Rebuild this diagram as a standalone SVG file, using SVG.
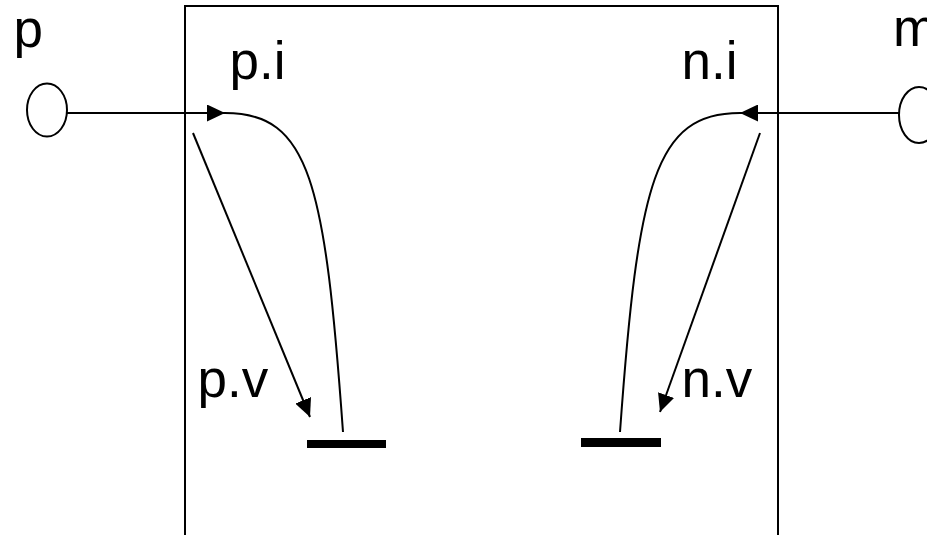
<svg xmlns="http://www.w3.org/2000/svg" width="927" height="535" viewBox="0 0 927 535">
<style>
.ln{fill:none;stroke:#000;stroke-width:2}
.lb{font-family:"Liberation Sans",Arial,sans-serif;font-size:53px;fill:#000}
.bar{fill:#000}
</style>
<defs>
<marker id="ah" markerUnits="userSpaceOnUse" markerWidth="18" markerHeight="17" refX="18" refY="8.5" orient="auto" viewBox="0 0 18 17">
<path d="M0,0 L18,8.5 L0,17 z" fill="#000"/>
</marker>
</defs>
<rect x="0" y="0" width="927" height="535" fill="#fff"/>
<g id="block">
<rect class="ln" x="185" y="6" width="593" height="560"/>
</g>
<g id="port-p">
<ellipse class="ln" cx="47" cy="110" rx="20" ry="26.5"/>
<text class="lb" x="13.5" y="47">p</text>
</g>
<g id="port-m">
<ellipse class="ln" cx="919" cy="115" rx="20" ry="28"/>
<text class="lb" x="893" y="46">m</text>
</g>
<g id="ground-p">
<rect class="bar" x="307" y="440" width="79" height="8"/>
</g>
<g id="ground-n">
<rect class="bar" x="581" y="438" width="80" height="9"/>
</g>
<g id="labels">
<text class="lb" x="229.5" y="79">p.i</text>
<text class="lb" x="681.5" y="79">n.i</text>
<text class="lb" x="197.5" y="397">p.v</text>
<text class="lb" x="681.5" y="397">n.v</text>
</g>
<g id="connectors">
<line class="ln" x1="67" y1="113" x2="225" y2="113" marker-end="url(#ah)"/>
<line class="ln" x1="899" y1="113" x2="740" y2="113" marker-end="url(#ah)"/>
<path class="ln" d="M225,113 C310,113 325,182 343,432"/>
<path class="ln" d="M740,113 C655,113 638,182 620,432"/>
<line class="ln" x1="193" y1="133" x2="310" y2="417" marker-end="url(#ah)"/>
<line class="ln" x1="760" y1="133" x2="660" y2="412" marker-end="url(#ah)"/>
</g>
</svg>
